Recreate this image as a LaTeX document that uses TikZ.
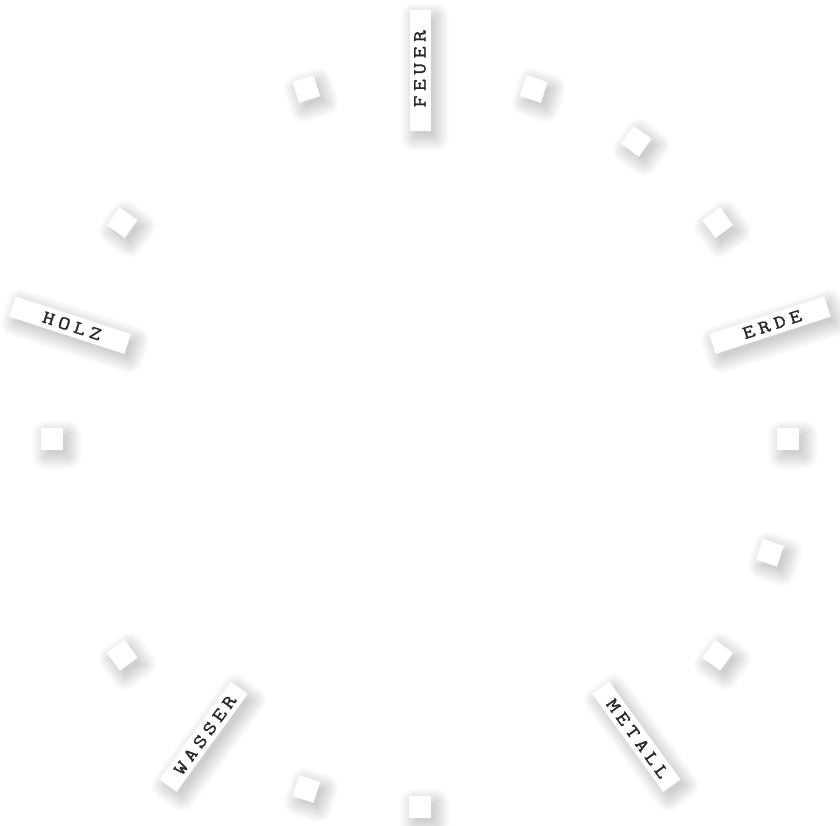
\documentclass[tikz,border=0pt]{standalone}
\usepackage{fontspec}
\newfontfamily\labfont{Latin Modern Mono}[LetterSpace=24, FakeStretch=1.25, FakeBold=1.3]
\newcommand\spaced[1]{#1\kern-0.24em}
\newcommand\softshadow[4]{% position angle, rotation, width, height
  \foreach \k in {0,...,15}{%
    \pgfmathsetmacro\ee{\k*1.1-3}%
    \pgfmathsetmacro\rr{max(\ee,0.2)}%
    \fill[black, opacity=0.011, shift={(#1:368)}, xshift=5pt, yshift=-6pt, rotate=#2,
          rounded corners=\rr pt]
      ({-#3/2-\ee},{-#4/2-\ee}) rectangle ({#3/2+\ee},{#4/2+\ee});
  }%
}
\begin{document}
\begin{tikzpicture}[x=1pt,y=1pt,
  lab/.style={fill=white, minimum width=121pt, minimum height=21pt, inner sep=0pt,
    font=\labfont\fontsize{18.5}{18.5}\selectfont, text=black!85},
  sq/.style={fill=white, minimum width=22pt, minimum height=22pt, inner sep=0pt}]
\fill[white] (0,0) rectangle (840,825);
\useasboundingbox (0,0) rectangle (840,825);
\begin{scope}[shift={(420,386)}]
  % shadows
  \foreach \a in {0,36,54,72,108,144,180,216,252,270,324,342}{\softshadow{\a}{\a}{22}{22}}
  \softshadow{90}{90}{121}{21}
  \softshadow{18}{18}{121}{21}
  \softshadow{162}{-18}{121}{21}
  \softshadow{-54}{-54}{121}{21}
  \softshadow{-126}{54}{121}{21}
  % squares
  \foreach \a in {0,36,54,72,108,144,180,216,252,270,324,342}{
    \node (s\a) [sq, rotate=\a] at (\a:368) {};
  }
  % labels
  \node (feuer)  [lab, rotate=90]  at (90:368)   {\spaced{FEUER}};
  \node (erde)   [lab, rotate=18]  at (18:368)   {\spaced{ERDE}};
  \node (holz)   [lab, rotate=-18] at (162:368)  {\spaced{HOLZ}};
  \node (metall) [lab, rotate=-54] at (-54:368)  {\spaced{METALL}};
  \node (wasser) [lab, rotate=54]  at (-126:368) {\spaced{WASSER}};
\end{scope}
\end{tikzpicture}
\end{document}
